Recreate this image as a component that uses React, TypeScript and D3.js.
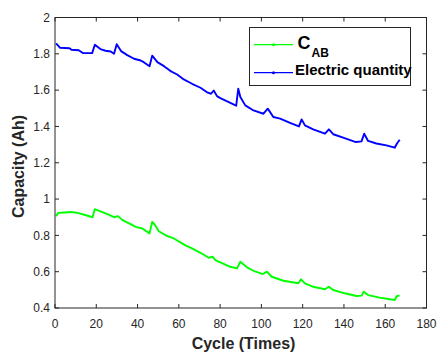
import React from "react";
import * as d3 from "d3";

const xTicks = [0, 20, 40, 60, 80, 100, 120, 140, 160, 180];
const yTicks = [0.4, 0.6, 0.8, 1, 1.2, 1.4, 1.6, 1.8, 2];
const yTickLabels = ["0.4", "0.6", "0.8", "1", "1.2", "1.4", "1.6", "1.8", "2"];

const blueCycles = [0.5, 2.5, 7, 8, 11.5, 13.5, 18, 19.3, 22, 24.5, 27, 28.6, 29.9, 32, 35, 38.3, 41.5, 43, 45.8, 47.1, 49.6, 52.8, 56, 59.2, 62.4, 66.4, 70.5, 74, 75.6, 76.9, 78.5, 80.1, 86.5, 87.8, 88.8, 89.8, 92.2, 96.2, 101, 103.1, 105.8, 109.1, 113.9, 118.2, 119.5, 121.1, 125.1, 130.8, 132.7, 134.8, 139.6, 145.8, 148.5, 149.8, 151.7, 155.7, 160.6, 164.6, 165.7, 167];
const blueValues = [1.858, 1.833, 1.831, 1.822, 1.82, 1.804, 1.804, 1.85, 1.826, 1.817, 1.813, 1.8, 1.853, 1.815, 1.793, 1.773, 1.763, 1.754, 1.732, 1.79, 1.754, 1.732, 1.705, 1.686, 1.659, 1.635, 1.613, 1.586, 1.58, 1.598, 1.567, 1.556, 1.521, 1.514, 1.608, 1.562, 1.516, 1.488, 1.47, 1.498, 1.452, 1.443, 1.419, 1.4, 1.439, 1.406, 1.384, 1.36, 1.384, 1.357, 1.338, 1.314, 1.318, 1.36, 1.32, 1.306, 1.296, 1.283, 1.306, 1.327];

const greenCycles = [0.5, 1.6, 4.5, 7.7, 11, 15, 18.2, 19.3, 21.4, 25.4, 28.6, 30.6, 32.7, 35.9, 39.1, 42.3, 45.8, 47.1, 48.3, 50.3, 54.4, 57.6, 61.6, 63.2, 66.4, 70.5, 74.5, 76.4, 77.7, 80.1, 84.9, 88.2, 89.8, 93, 96.2, 100.7, 102.7, 105, 110.7, 117.9, 119.2, 121.1, 125.1, 130.8, 132.7, 134.8, 140.4, 146.1, 148.6, 149.6, 151.7, 157.3, 164.6, 165.7, 167];
const greenValues = [0.906, 0.924, 0.926, 0.929, 0.924, 0.911, 0.9, 0.944, 0.935, 0.917, 0.9, 0.906, 0.884, 0.866, 0.847, 0.838, 0.811, 0.874, 0.86, 0.823, 0.796, 0.783, 0.756, 0.745, 0.728, 0.704, 0.677, 0.682, 0.664, 0.651, 0.627, 0.618, 0.655, 0.624, 0.605, 0.587, 0.6, 0.572, 0.55, 0.536, 0.558, 0.536, 0.517, 0.503, 0.517, 0.499, 0.481, 0.466, 0.468, 0.49, 0.471, 0.457, 0.444, 0.466, 0.468];

const FONT = "'Liberation Sans', Arial, Helvetica, sans-serif";
const AXIS = "#262626";

export default function App() {
  const W = 439, H = 354;
  const left = 55, right = 426.5, top = 17.5, bottom = 308;
  const x = d3.scaleLinear().domain([0, 180]).range([left, right]);
  const y = d3.scaleLinear().domain([0.4, 2]).range([bottom, top]);
  const line = d3.line<[number, number]>().x(d => x(d[0])).y(d => y(d[1]));
  const blue = blueCycles.map((c, i) => [c, blueValues[i]] as [number, number]);
  const green = greenCycles.map((c, i) => [c, greenValues[i]] as [number, number]);
  const tl = 4;

  return (
    <svg width={W} height={H} style={{ position: "absolute", left: 0, top: 0, background: "#fff" }} fontFamily={FONT}>
      <rect x={0} y={0} width={W} height={H} fill="#fff" />
      {/* data */}
      <path d={line(green) || ""} fill="none" stroke="#00ff00" strokeWidth={1.9} strokeLinejoin="round" />
      <path d={line(blue) || ""} fill="none" stroke="#0000ff" strokeWidth={1.9} strokeLinejoin="round" />
      {/* box */}
      <rect x={left} y={top} width={right - left} height={bottom - top} fill="none" stroke={AXIS} strokeWidth={1} />
      {xTicks.map(t => (
        <g key={"x" + t}>
          <line x1={x(t)} x2={x(t)} y1={bottom} y2={bottom - tl} stroke={AXIS} />
          <line x1={x(t)} x2={x(t)} y1={top} y2={top + tl} stroke={AXIS} />
          <text x={x(t)} y={328} textAnchor="middle" fontSize={12} fill={AXIS}>{t}</text>
        </g>
      ))}
      {yTicks.map((t, i) => (
        <g key={"y" + t}>
          <line x1={left} x2={left + tl} y1={y(t)} y2={y(t)} stroke={AXIS} />
          <line x1={right} x2={right - tl} y1={y(t)} y2={y(t)} stroke={AXIS} />
          <text x={50} y={y(t) + 4.3} textAnchor="end" fontSize={12} fill={AXIS}>{yTickLabels[i]}</text>
        </g>
      ))}
      <text x={243.5} y={349} textAnchor="middle" fontSize={16} fontWeight="bold" fill={AXIS}>Cycle (Times)</text>
      <text transform="translate(24,166.5) rotate(-90)" textAnchor="middle" fontSize={16} fontWeight="bold" fill={AXIS}>Capacity (Ah)</text>
      {/* legend */}
      <rect x={249.5} y={27.5} width={161} height={58} fill="#fff" stroke={AXIS} strokeWidth={1} />
      <line x1={254} x2={293} y1={44.7} y2={44.7} stroke="#00ff00" strokeWidth={1.2} />
      <circle cx={273.5} cy={44.7} r={1.5} fill="#00ff00" />
      <line x1={254} x2={293} y1={72.7} y2={72.7} stroke="#0000ff" strokeWidth={1.2} />
      <circle cx={273.5} cy={72.7} r={1.5} fill="#0000ff" />
      <text x={297.5} y={49.3} fontSize={18} fontWeight="bold" fill="#000">C</text>
      <text x={311.5} y={57} fontSize={12} fontWeight="bold" fill="#000">AB</text>
      <text x={295} y={75} fontSize={15} fontWeight="bold" fill="#000">Electric quantity</text>
    </svg>
  );
}
